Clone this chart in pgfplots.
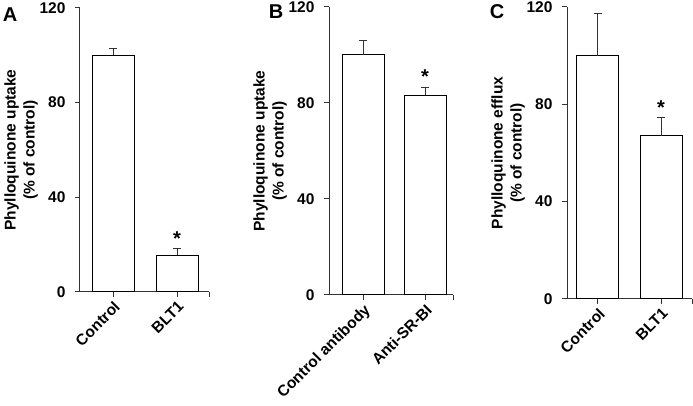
\documentclass[border=0pt]{standalone}
\usepackage{fontspec}
\setmainfont{Liberation Sans}
\usepackage{pgfplots}
\pgfplotsset{compat=1.18}
\definecolor{axgray}{HTML}{333333}
\newcommand{\fs}{\bfseries\fontsize{15.5}{19}\selectfont}
\pgfplotsset{panel/.style={
  scale only axis, anchor=south west,
  axis x line*=bottom, axis y line*=left,
  ybar, ymin=0, ymax=120, ytick={0,40,80,120},
  yticklabels={\textbf{0},\textbf{40},\textbf{80},\textbf{120}},
  xtick={0,1},
  extra x ticks={#1}, extra x tick labels={},
  tick align=outside, major tick length=5pt,
  tick style={axgray, line width=1pt},
  axis line style={axgray, line width=1pt},
  xticklabel style={rotate=45, anchor=north east, font=\fs, inner sep=2pt},
  yticklabel style={font=\fs, xshift=-6pt},
  ylabel style={align=center, font=\fs, yshift=-5pt},
  clip=false,
}}
\pgfplotsset{barsty/.style={fill=white, draw=black, line width=1pt, bar width=42pt,
  error bars/.cd, y dir=plus, y explicit,
  error bar style={axgray, line width=1pt},
  error mark options={rotate=90, mark size=4pt, axgray, line width=1pt}}}
\begin{document}
\begin{tikzpicture}[x=1pt,y=1pt]
\useasboundingbox (0,0) rectangle (693,406);
% Panel A
\begin{axis}[panel=1.5, at={(80pt,114pt)}, width=129pt, height=284pt,
  xmin=-0.516, xmax=1.5, xticklabels={Control,BLT1},
  ylabel={Phylloquinone uptake\\(\% of control)}]
\addplot[barsty] coordinates {(0,100) +- (0,2.8) (1,15.6) +- (0,2.8)};
\node[font=\bfseries\fontsize{20}{20}\selectfont] at (axis cs:1,22.5) {*};
\end{axis}
% Panel B
\begin{axis}[panel=1.45, at={(329pt,111pt)}, width=124pt, height=288pt,
  xmin=-0.55, xmax=1.45, xticklabels={Control antibody,Anti-SR-BI},
  ylabel={Phylloquinone uptake\\(\% of control)}]
\addplot[barsty] coordinates {(0,100) +- (0,6.2) (1,83.3) +- (0,3.2)};
\node[font=\bfseries\fontsize{20}{20}\selectfont] at (axis cs:1,91) {*};
\end{axis}
% Panel C
\begin{axis}[panel=1.49, at={(567pt,107pt)}, width=125pt, height=292pt,
  xmin=-0.49, xmax=1.49, xticklabels={Control,BLT1},
  ylabel={Phylloquinone efflux\\(\% of control)}]
\addplot[barsty] coordinates {(0,100) +- (0,17.5) (1,67) +- (0,7.7)};
\node[font=\bfseries\fontsize{20}{20}\selectfont] at (axis cs:1,78.5) {*};
\end{axis}
\node[font=\bfseries\fontsize{20}{20}\selectfont] at (10,391) {A};
\node[font=\bfseries\fontsize{20}{20}\selectfont] at (276,394) {B};
\node[font=\bfseries\fontsize{20}{20}\selectfont] at (497,394) {C};
\end{tikzpicture}
\end{document}
